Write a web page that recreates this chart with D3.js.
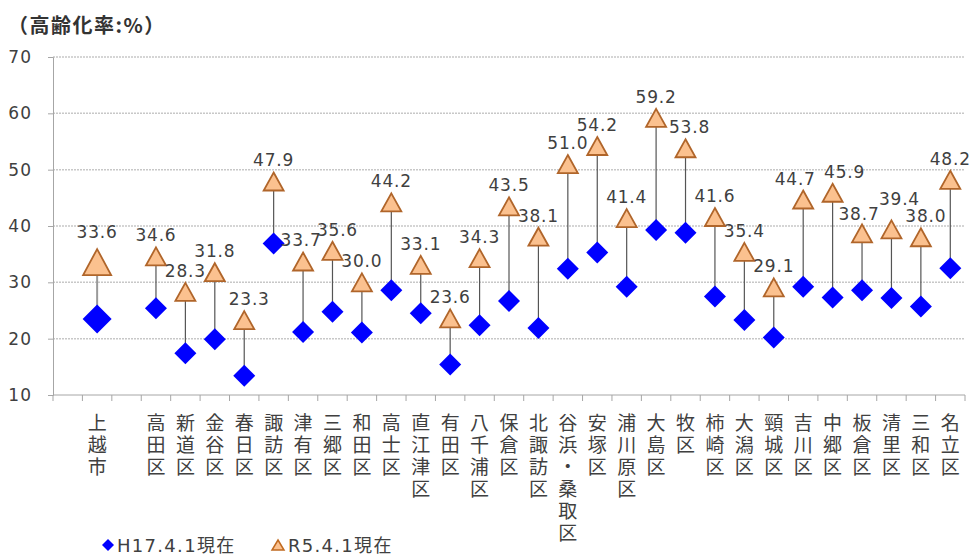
<!DOCTYPE html>
<html>
  <head>
    <meta charset="utf-8">
    <title>高齢化率</title>
    <style>
      body {
        margin: 0;
        background: #fff;
      }
      .chart text {
        fill: #404040;
      }
      .num {
        font-family: "DejaVu Sans", sans-serif;
      }
      .jp {
        font-family: "Noto Sans CJK JP", sans-serif;
      }
    </style>
  </head>
  <body>
    <div class="chart"></div>

    <script src="https://d3js.org/d3.v7.min.js"></script>
    <script>
      // Categories (blank entries are empty slots on the axis)
      var categories = ["", "上越市", "", "高田区", "新道区", "金谷区", "春日区", "諏訪区", "津有区",
        "三郷区", "和田区", "高士区", "直江津区", "有田区", "八千浦区", "保倉区", "北諏訪区",
        "谷浜・桑取区", "安塚区", "浦川原区", "大島区", "牧区", "柿崎区", "大潟区", "頸城区",
        "吉川区", "中郷区", "板倉区", "清里区", "三和区", "名立区"];

      // H17.4.1現在
      var h17 = [null, 23.5, null, 25.4, 17.4, 19.9, 13.4, 36.9, 21.2,
        24.8, 21.1, 28.6, 24.5, 15.4, 22.4, 26.7, 21.9,
        32.4, 35.3, 29.2, 39.3, 38.8, 27.5, 23.3, 20.2,
        29.2, 27.3, 28.6, 27.2, 25.7, 32.5];

      // R5.4.1現在
      var r5 = [null, 33.6, null, 34.6, 28.3, 31.8, 23.3, 47.9, 33.7,
        35.6, 30.0, 44.2, 33.1, 23.6, 34.3, 43.5, 38.1,
        51.0, 54.2, 41.4, 59.2, 53.8, 41.6, 35.4, 29.1,
        44.7, 45.9, 38.7, 39.4, 38.0, 48.2];

      var yTicks = [10, 20, 30, 40, 50, 60, 70];

      // small hand nudges for crowded data labels (pixels)
      var labelNudge = {
        "春日区": [5, 0], "津有区": [-2, 0], "三郷区": [5, 0], "牧区": [4, 0],
        "吉川区": [-8, 0], "中郷区": [12, 0], "板倉区": [-3, 2], "清里区": [8, -9],
        "三和区": [5, 0]
      };

      var W = 979, H = 560;
      var margin = {top: 57, right: 14, bottom: 165, left: 53};
      var width = W - margin.left - margin.right;
      var height = H - margin.top - margin.bottom;

      var svg = d3.select(".chart").append("svg")
        .attr("width", W)
        .attr("height", H);

      // Title
      svg.append("text")
        .attr("class", "jp")
        .attr("x", 8)
        .attr("y", 33)
        .style("font-size", "20px")
        .style("font-weight", "bold")
        .style("letter-spacing", "1.5px")
        .style("fill", "#333")
        .text("（高齢化率:%）");

      var g = svg.append("g")
        .attr("transform", "translate(" + margin.left + "," + margin.top + ")");

      var x = d3.scaleBand()
        .domain(d3.range(categories.length))
        .range([0, width]);

      var y = d3.scaleLinear()
        .domain([10, 70])
        .range([height, 0]);

      // Gridlines
      g.selectAll(".grid")
        .data(yTicks.slice(1))
        .enter().append("line")
        .attr("x1", 0)
        .attr("x2", width)
        .attr("y1", function(d) { return y(d); })
        .attr("y2", function(d) { return y(d); })
        .attr("stroke", "#c8c8c8")
        .attr("stroke-width", 1.5)
        .attr("stroke-dasharray", "2,1");

      // Y axis
      var yAxis = g.append("g")
        .call(d3.axisLeft(y).tickValues(yTicks).tickSize(5).tickPadding(16));
      yAxis.select(".domain").attr("stroke", "#a6a6a6");
      yAxis.selectAll(".tick line").attr("stroke", "#a6a6a6");
      yAxis.selectAll(".tick text")
        .attr("class", "num")
        .style("font-size", "17px")
        .style("letter-spacing", "1px");

      // X axis (ticks at category boundaries)
      g.append("line")
        .attr("x1", 0).attr("x2", width)
        .attr("y1", height).attr("y2", height)
        .attr("stroke", "#a6a6a6");
      g.selectAll(".xtick")
        .data(d3.range(categories.length + 1))
        .enter().append("line")
        .attr("x1", function(i) { return i * x.step(); })
        .attr("x2", function(i) { return i * x.step(); })
        .attr("y1", height)
        .attr("y2", height + 6)
        .attr("stroke", "#a6a6a6");

      // Vertical category labels, one character per line
      var lab = g.selectAll(".xlab")
        .data(categories.map(function(c, i) { return {name: c, i: i}; }))
        .enter().append("g")
        .attr("transform", function(d) {
          return "translate(" + (x(d.i) + x.bandwidth() / 2) + "," + (height + 26) + ")";
        });
      lab.selectAll("text")
        .data(function(d) { return Array.from(d.name); })
        .enter().append("text")
        .attr("class", "jp")
        .attr("x", 0)
        .attr("y", function(c, j) { return j * 22; })
        .attr("text-anchor", "middle")
        .attr("dominant-baseline", "central")
        .style("font-size", "19px")
        .text(function(c) { return c; });

      var pts = categories.map(function(c, i) {
        return {name: c, i: i, a: h17[i], b: r5[i], big: c === "上越市"};
      }).filter(function(d) { return d.a != null; });

      function cx(d) { return x(d.i) + x.bandwidth() / 2; }

      // Drop lines
      g.selectAll(".drop")
        .data(pts)
        .enter().append("line")
        .attr("x1", cx).attr("x2", cx)
        .attr("y1", function(d) { return y(d.a); })
        .attr("y2", function(d) { return y(d.b); })
        .attr("stroke", function(d) { return d.big ? "#9a9a9a" : "#555"; })
        .attr("stroke-width", function(d) { return d.big ? 2 : 1.2; });

      // Diamonds
      g.selectAll(".dia")
        .data(pts)
        .enter().append("path")
        .attr("d", function(d) {
          var r = d.big ? 14.5 : 11;
          return "M0," + (-r) + "L" + r + ",0L0," + r + "L" + (-r) + ",0Z";
        })
        .attr("transform", function(d) { return "translate(" + cx(d) + "," + y(d.a) + ")"; })
        .attr("fill", "#0000ff");

      // Triangles
      g.selectAll(".tri")
        .data(pts)
        .enter().append("path")
        .attr("d", function(d) {
          var w = d.big ? 28 : 20, h = d.big ? 26 : 18;
          return "M0," + (-h / 2) + "L" + (w / 2) + "," + (h / 2) + "L" + (-w / 2) + "," + (h / 2) + "Z";
        })
        .attr("transform", function(d) { return "translate(" + cx(d) + "," + y(d.b) + ")"; })
        .attr("fill", "#fbc18f")
        .attr("stroke", "#b0652a")
        .attr("stroke-width", 1.8)
        .attr("stroke-linejoin", "miter");

      // Value labels
      g.selectAll(".val")
        .data(pts)
        .enter().append("text")
        .attr("class", "num")
        .attr("x", function(d) { return cx(d) + (labelNudge[d.name] ? labelNudge[d.name][0] : 0); })
        .attr("y", function(d) {
          return y(d.b) - (d.big ? 24 : 15) + (labelNudge[d.name] ? labelNudge[d.name][1] : 0);
        })
        .attr("text-anchor", "middle")
        .style("font-size", "17px")
        .style("letter-spacing", "0.8px")
        .text(function(d) { return d.b.toFixed(1); });

      // Legend
      var leg = svg.append("g").attr("transform", "translate(0,545)");
      leg.append("path")
        .attr("d", "M0,-6L6,0L0,6L-6,0Z")
        .attr("transform", "translate(108,0)")
        .attr("fill", "#0000ff");
      leg.append("text")
        .attr("x", 117).attr("y", 0)
        .attr("dominant-baseline", "central")
        .style("font-family", "'DejaVu Sans', 'Noto Sans CJK JP'")
        .style("font-size", "18px")
        .style("letter-spacing", "1.3px")
        .text("H17.4.1現在");
      leg.append("path")
        .attr("d", "M0,-5L6,5L-6,5Z")
        .attr("transform", "translate(278,0)")
        .attr("fill", "#fbc18f")
        .attr("stroke", "#c06a20")
        .attr("stroke-width", 1.5);
      leg.append("text")
        .attr("x", 288).attr("y", 0)
        .attr("dominant-baseline", "central")
        .style("font-family", "'DejaVu Sans', 'Noto Sans CJK JP'")
        .style("font-size", "18px")
        .style("letter-spacing", "1.3px")
        .text("R5.4.1現在");
    </script>
  </body>
</html>
